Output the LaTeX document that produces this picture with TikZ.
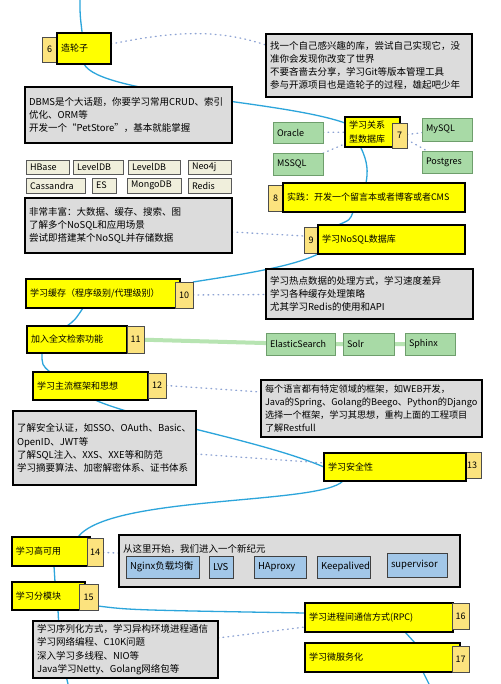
\documentclass[tikz,border=0pt]{standalone}
\usepackage{fontspec}
\setmainfont{Noto Sans CJK SC}
\usepackage{tikz}
\usetikzlibrary{backgrounds}
\definecolor{hlyellow}{HTML}{FFFF00}
\definecolor{numyellow}{HTML}{FCE37E}
\definecolor{notegray}{HTML}{DCDCDC}
\definecolor{dbgreen}{HTML}{A8DAA6}
\definecolor{dbgreenline}{HTML}{6E9E6C}
\definecolor{nosqlbeige}{HTML}{F0EFDC}
\definecolor{habblue}{HTML}{A2C7E8}
\definecolor{pathblue}{HTML}{2CA5DB}
\definecolor{dotblue}{HTML}{8EA4D4}
\definecolor{searchgreen}{HTML}{B7E4B2}

\begin{document}
\begin{tikzpicture}[x=1pt, y=-1pt,
  every node/.style={anchor=north west, inner sep=0pt, outer sep=0pt},
  topic/.style={draw=black, line width=1.5pt, fill=hlyellow, inner xsep=4pt, align=left, font=\fontsize{9}{14}\selectfont},
  num/.style={draw=black!70, line width=0.6pt, fill=numyellow, font=\fontsize{9}{10}\selectfont},
  note/.style={draw=black, line width=1.5pt, fill=notegray, inner xsep=4pt, align=left, font=\fontsize{9.5}{13.3}\selectfont},
  rdb/.style={draw=dbgreenline, line width=0.8pt, fill=dbgreen, inner xsep=4pt, align=left, font=\fontsize{9}{10}\selectfont},
  nosql/.style={draw=black!65, line width=0.8pt, fill=nosqlbeige, inner xsep=4pt, align=left, font=\fontsize{9}{10}\selectfont},
  ha/.style={draw=black!75, line width=0.8pt, fill=habblue, inner xsep=4pt, align=left, font=\fontsize{9.5}{10}\selectfont},
  link/.style={pathblue, line width=1.3pt},
  dots/.style={dotblue, line width=1.3pt, dash pattern=on 0.8pt off 4.2pt, line cap=round},
  search/.style={searchgreen, line width=4pt}]
  \useasboundingbox (0,0) rectangle (500,684);

  % 6
  \node[num, minimum width=15pt, minimum height=25pt] (n6) at (42,37) {6};
  \node[topic, text width=46pt, minimum height=31pt] (t6) at (57,33) {造轮子};
  \node[note, text width=198pt, minimum height=63pt] (note6) at (266,34)
    {找一个自己感兴趣的库，尝试自己实现它，没\\准你会发现你改变了世界\\不要吝啬去分享，学习Git等版本管理工具\\参与开源项目也是造轮子的过程，雄起吧少年};

  % DBMS
  \node[note, text width=199pt, minimum height=56pt] (noteA) at (25,87)
    {DBMS是个大话题，你要学习常用CRUD、索引\\优化、ORM等\\开发一个“PetStore”，基本就能掌握};

  % 7
  \node[topic, text width=47pt, minimum height=30pt] (t7) at (345,117) {学习关系\\型数据库};
  \node[num, minimum width=15pt, minimum height=25pt] (n7) at (392,123) {7};
  \node[rdb, text width=42pt, minimum height=21pt] (oracle) at (273,122) {Oracle};
  \node[rdb, text width=42pt, minimum height=22pt] (mssql) at (273,153) {MSSQL};
  \node[rdb, text width=42pt, minimum height=23pt] (mysql) at (422,118) {MySQL};
  \node[rdb, text width=42pt, minimum height=22pt] (postgres) at (422,151) {Postgres};

  % NoSQL
  \node[nosql, text width=35pt, minimum height=14pt] (hbase) at (26,160) {HBase};
  \node[nosql, text width=42pt, minimum height=14pt] (leveldbA) at (73,160) {LevelDB};
  \node[nosql, text width=44pt, minimum height=14pt] (leveldbB) at (128,160) {LevelDB};
  \node[nosql, text width=35pt, minimum height=14pt] (neoj) at (188,160) {Neo4j};
  \node[nosql, text width=51pt, minimum height=15pt] (cassandra) at (26,178) {Cassandra};
  \node[nosql, text width=16pt, minimum height=15pt] (esdb) at (92,178) {ES};
  \node[nosql, text width=46pt, minimum height=15pt] (mongodb) at (127,178) {MongoDB};
  \node[nosql, text width=35pt, minimum height=15pt] (redis) at (188,178) {Redis};
  \node[note, text width=199pt, minimum height=55pt] (noteB) at (25,198)
    {非常丰富：大数据、缓存、搜索、图\\了解多个NoSQL和应用场景\\尝试即搭建某个NoSQL并存储数据};

  % 8, 9
  \node[num, minimum width=15pt, minimum height=26pt] (n8) at (268,185) {8};
  \node[topic, text width=174pt, minimum height=29pt] (t8) at (283,183) {实践：开发一个留言本或者博客或者CMS};
  \node[num, minimum width=14pt, minimum height=26pt] (n9) at (304,227) {9};
  \node[topic, text width=139pt, minimum height=29pt] (t9) at (318,225) {学习NoSQL数据库};

  % 10
  \node[topic, text width=146pt, minimum height=29pt] (t10) at (26,279) {学习缓存（程序级别/代理级别）};
  \node[num, minimum width=18pt, minimum height=26pt] (n10) at (175,282) {10};
  \node[note, text width=199pt, minimum height=50pt] (note10) at (266,269)
    {学习热点数据的处理方式，学习速度差异\\学习各种缓存处理策略\\尤其学习Redis的使用和API};

  % 11
  \node[topic, text width=92pt, minimum height=27pt] (t11) at (27,326) {加入全文检索功能};
  \node[num, minimum width=17pt, minimum height=27pt] (n11) at (127,326) {11};
  \node[rdb, text width=61pt, minimum height=22pt] (es) at (266,333) {ElasticSearch};
  \node[rdb, text width=43pt, minimum height=22pt] (solr) at (343,333) {Solr};
  \node[rdb, text width=42pt, minimum height=22pt] (sphinx) at (405,333) {Sphinx};

  % 12
  \node[topic, text width=107pt, minimum height=28pt] (t12) at (33,372) {学习主流框架和思想};
  \node[num, minimum width=18pt, minimum height=25pt] (n12) at (148,373) {12};
  \node[note, text width=213pt, minimum height=57pt, font=\fontsize{9.2}{13.3}\selectfont] (note12) at (261,380)
    {每个语言都有特定领域的框架，如WEB开发，\\Java的Spring、Golang的Beego、Python的Django\\选择一个框架，学习其思想，重构上面的工程项目\\了解Restfull};

  % 13
  \node[note, text width=175pt, minimum height=74pt] (note13) at (13,411)
    {了解安全认证，如SSO、OAuth、Basic、\\OpenID、JWT等\\了解SQL注入、XXS、XXE等和防范\\学习摘要算法、加密解密体系、证书体系};
  \node[num, minimum width=18pt, minimum height=26pt] (n13) at (463,452) {13};
  \node[topic, text width=134pt, minimum height=28pt] (t13) at (324,453) {学习安全性};

  % 14
  \node[topic, text width=70pt, minimum height=29pt] (t14) at (12,537) {学习高可用};
  \node[num, minimum width=16pt, minimum height=28pt] (n14) at (87,538) {14};
  \node[note, minimum width=341pt, minimum height=52pt] (note14) at (119,535) {};
  \node[anchor=west, font=\fontsize{9.5}{12}\selectfont] (eraText) at (123,549) {从这里开始，我们进入一个新纪元};
  \node[ha, text width=65pt, minimum height=22pt] (nginx) at (126,556) {Nginx负载均衡};
  \node[ha, text width=16pt, minimum height=22pt] (lvs) at (209,556) {LVS};
  \node[ha, text width=44pt, minimum height=22pt] (haproxy) at (254,556) {HAproxy};
  \node[ha, text width=45pt, minimum height=22pt] (keepalived) at (317,556) {Keepalived};
  \node[ha, text width=52pt, minimum height=24pt] (supervisor) at (387,553) {supervisor};

  % 15
  \node[topic, text width=65pt, minimum height=28pt] (t15) at (12,582) {学习分模块};
  \node[num, minimum width=19pt, minimum height=26pt] (n15) at (79,584) {15};
  \node[note, text width=177pt, minimum height=57pt] (note15) at (33,621)
    {学习序列化方式，学习异构环境进程通信\\学习网络编程、C10K问题\\深入学习多线程、NIO等\\Java学习Netty、Golang网络包等};

  % 16, 17
  \node[topic, text width=140pt, minimum height=29pt] (t16) at (305,603) {学习进程间通信方式(RPC)};
  \node[num, minimum width=17pt, minimum height=26pt] (n16) at (452,603) {16};
  \node[topic, text width=147pt, minimum height=29pt] (t17) at (305,643) {学习微服务化};
  \node[num, minimum width=17pt, minimum height=26pt] (n17) at (452,646) {17};

  \begin{scope}[on background layer]
    \fill[white] (0,0) rectangle (500,684);
    \coordinate (top) at (80,0);
    \coordinate (bottomL) at (68,684);
    \coordinate (bottomR) at (429,684);

    % main path
    \draw[link] (top) .. controls (80,15) .. (t6);
    \draw[link] (t6.south) .. controls (100,95) and (280,100) .. ([yshift=-6pt]t7.north west);
    \draw[link] ([xshift=-12pt]t7.south) .. controls (368,162) and (368,172) .. ([xshift=83pt]t8.north west);
    \draw[link] ([xshift=70pt]t8.south west) .. controls (350,220) .. ([xshift=20pt]t9.north west);
    \draw[link] (t9.south west) .. controls (290,268) and (230,276) .. (n10.north east);
    \draw[link] ([xshift=57pt]t10.south west) .. controls (75,320) .. ([xshift=40pt]t11.north west);
    \draw[link] ([xshift=15pt]t11.south west) .. controls (42,365) .. ([xshift=17pt]t12.north west);
    \draw[link] ([xshift=62pt]t12.south west) .. controls (140,420) and (260,440) .. (t13.west);
    \draw[link] ([xshift=19pt]t13.south west) .. controls (320,505) and (110,495) .. ([xshift=66pt]t14.north west);
    \draw[link] ([xshift=42pt]t14.south west) -- ([xshift=43pt]t15.north west);
    \draw[link] ([yshift=4pt]n15.south east) .. controls (130,610) .. ([yshift=-10pt]t16.north west);
    \draw[link] ([xshift=46pt]t15.south west) .. controls (60,650) .. (bottomL);
    \draw[link] ([xshift=100pt]t16.south west) .. controls (410,638) .. ([xshift=110pt]t17.north west);
    \draw[link] ([xshift=118pt]t17.south west) .. controls (426,678) .. (bottomR);

    % side notes
    \draw[dots] ([yshift=-11pt]t6.north east) .. controls (180,30) and (220,30) .. ([yshift=-11pt]note6.north west);
    \draw[dots] (oracle) -- (t7);
    \draw[dots] (mssql) -- (t7);
    \draw[dots] (n7) -- (mysql);
    \draw[dots] (n7) -- (postgres);
    \draw[dots] ([yshift=-34pt]noteB.north east) -- ([yshift=-9pt]n9.north west);
    \draw[dots] (n10) -- (note10);
    \draw[search] (n11) -- (es) -- (solr) -- (sphinx);
    \draw[dots] (n12.east) -- ([yshift=-12pt]note12.north west);
    \draw[dots] ([yshift=-43pt]note13.north east) -- ([yshift=-10pt]t13.north west);
    \draw[dots] (n14) -- (note14);
    \draw[dots] ([yshift=-17pt]note15.north east) -- ([yshift=-24pt]t16.north west);
  \end{scope}
\end{tikzpicture}
\end{document}
